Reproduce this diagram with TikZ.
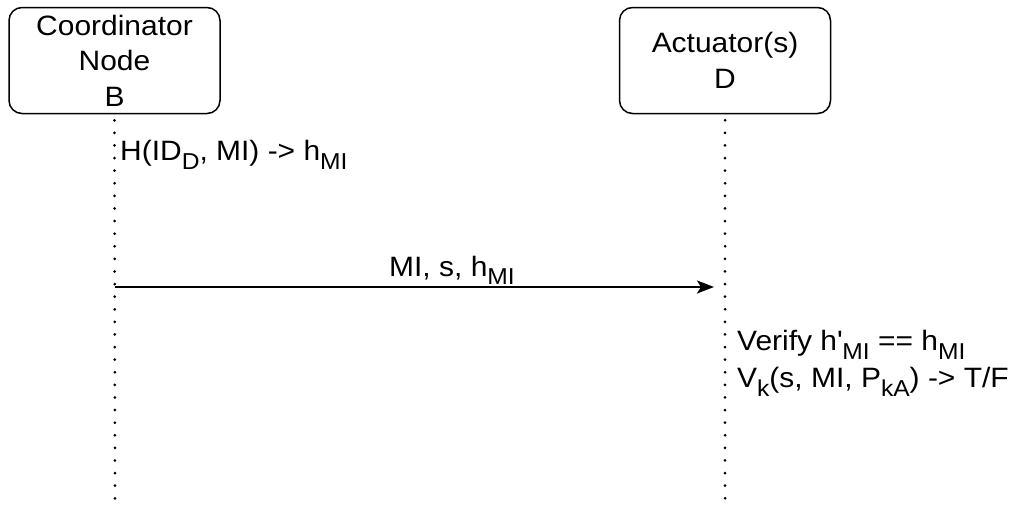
\documentclass[tikz,border=0pt]{standalone}
\usepackage{fontspec}
\setmainfont[FakeStretch=1.07]{Liberation Sans}
\usetikzlibrary{arrows.meta}
\newcommand\sbs[1]{\raisebox{-0.3em}{\fontsize{23}{23}\selectfont #1}}
\tikzset{
  lifebox/.style={draw, line width=1.5pt, rounded corners=13pt, align=center,
    minimum width=211pt, minimum height=106pt, inner sep=0pt,
    font=\fontsize{28}{35.5}\selectfont},
  lifeline/.style={line width=3pt, line cap=round, dash pattern=on 0pt off 12.6pt},
  msg/.style={line width=2.2pt, -{Stealth[length=17pt,width=13pt,inset=4pt]}},
  lbl/.style={inner sep=0pt, font=\fontsize{28}{33}\selectfont}
}
\begin{document}
\begin{tikzpicture}[x=1pt,y=-1pt]
\useasboundingbox (0,0) rectangle (1011,506);
% participants
\node[lifebox] (b) at (114.5,60.5) {Coordinator\\Node\\B};
\node[lifebox] (d) at (725,60.5) {Actuator(s)\\D};
% lifelines
\coordinate (bend) at (115,503);
\coordinate (dend) at (725,503);
\draw[lifeline] ([yshift=-6pt]b.south) -- (bend);
\draw[lifeline] ([yshift=-6pt]d.south) -- (dend);
% local computation at B
\node[lbl, anchor=west] (hash) at (120,155) {H(ID\sbs{D}, MI) -> h\sbs{MI}};
% message B -> D
\coordinate (m) at (0,287);
\draw[msg] (b.south |- m) -- ([xshift=-11pt]d.south |- m);
\node[lbl, anchor=base west] (ml) at (389,276) {MI, s, h\sbs{MI}};
% verification at D
\node[lbl, anchor=west] (ver) at (737,345) {Verify h\textquotesingle\sbs{MI} == h\sbs{MI}};
\node[lbl, anchor=west] (vk) at (737,382) {V\sbs{k}(s, MI, P\sbs{kA}) -> T/F};
\end{tikzpicture}
\end{document}
